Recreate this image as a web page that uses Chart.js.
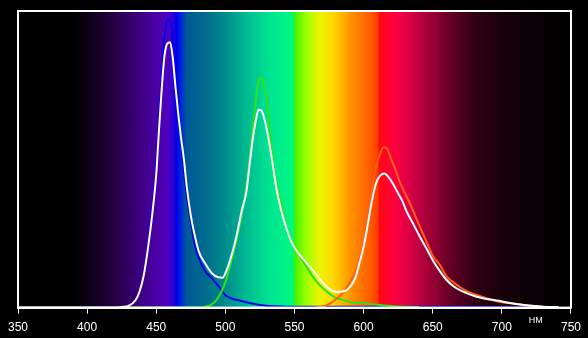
<!DOCTYPE html>
<html>
<head>
<meta charset="utf-8">
<script src="https://cdn.jsdelivr.net/npm/chart.js@4/dist/chart.umd.min.js"></script>
<style>
  html, body { margin: 0; padding: 0; background: #000; }
  canvas { display: block; }
</style>
</head>
<body>
<canvas id="spectrum" width="588" height="338"></canvas>
<script>
// wavelength axis, nm
const xTicks = [350, 400, 450, 500, 550, 600, 650, 700, 750];
const unitLabel = 'НМ';

// white: total spectrum
const whiteNm  = [350, 420, 425, 430, 435, 438, 441, 444, 447, 450, 452, 454, 456, 458, 460, 462, 464, 466, 468, 470, 472, 475, 478, 481, 485, 490, 495, 498, 501, 505, 508, 512, 515, 518, 520, 522, 524, 526, 528, 530, 533, 537, 540, 544, 548, 553, 558, 562, 566, 570, 575, 580, 585, 588, 591, 594, 597, 600, 603, 606, 609, 612, 615, 618, 621, 625, 628, 631, 635, 640, 645, 650, 655, 660, 665, 670, 675, 680, 685, 690, 698, 705, 710, 720, 730, 741];
const whiteVal = [0, 0, 0.2, 0.6, 2.5, 5.5, 11, 20, 31, 45, 60, 74, 85, 89, 89.5, 84, 74, 65, 57, 50, 41, 31, 24, 18.6, 15.2, 11.7, 10.2, 10.1, 12.7, 18.5, 24, 33, 38.5, 50, 57.5, 63, 66.7, 66.5, 64, 60, 52, 40, 33.5, 27, 22, 18.2, 15.5, 13.3, 11, 8.7, 6.3, 5.3, 5.4, 6, 7.5, 10, 15, 20.5, 28, 36, 41.9, 44.5, 45.2, 44, 41.9, 38.5, 36, 32.5, 29, 24.5, 20.3, 16, 12.4, 9.3, 7.2, 5.8, 4.8, 3.9, 3.3, 2.8, 2.3, 1.6, 1.2, 0.7, 0.3, 0.2];

// blue channel
const blueNm  = [425, 430, 435, 438, 441, 444, 447, 450, 452, 454, 456, 458, 460, 462, 464, 466, 468, 470, 472, 475, 478, 481, 485, 490, 495, 500, 505, 510, 515, 520, 530, 540, 560, 600, 650, 700, 718];
const blueVal = [0, 0.5, 2.5, 5.8, 11.5, 21, 33, 48, 64, 79, 91, 97, 97, 90, 79, 68, 56, 46, 38, 29, 21, 16.5, 12.5, 10, 7.2, 4.2, 3, 2.4, 1.8, 1.3, 0.6, 0.4, 0.3, 0.3, 0.3, 0.2, 0.2];

// green channel
const greenNm  = [430, 480, 485, 490, 495, 500, 505, 510, 515, 518, 520, 522, 524, 526, 528, 530, 532, 534, 537, 540, 545, 550, 555, 560, 565, 570, 575, 580, 585, 590, 600, 610, 620, 630, 640];
const greenVal = [0, 0, 0.3, 1, 3.5, 8.5, 17, 27, 40, 52, 61, 70, 76.5, 77.5, 75, 70, 60, 51, 42, 36, 26, 20.5, 16.5, 12.8, 9.3, 6.8, 4.8, 3.3, 2.6, 1.9, 1.5, 1, 0.5, 0.3, 0.2];

// red channel
const redNm  = [565, 570, 575, 580, 585, 590, 595, 600, 603, 606, 609, 612, 614, 616, 618, 620, 623, 626, 630, 635, 640, 645, 650, 655, 660, 665, 670, 675, 680, 685, 690, 700, 710, 720, 730, 740];
const redVal = [0, 0.3, 1.2, 2.8, 5, 8.5, 13, 22, 32, 40, 47.5, 52, 54, 54, 52.5, 50, 46.5, 42.5, 38.5, 33.5, 28, 22.7, 17.5, 14.5, 10.5, 8.5, 6.8, 5.5, 4.5, 3.8, 3, 1.8, 1.3, 0.6, 0.2, 0];

// visible spectrum behind the plot: [nm, colour]
const spectrumStops = [
  [350, 'rgb(0,0,0)'], [390, 'rgb(0,0,0)'], [400, 'rgb(10,0,20)'], [415, 'rgb(30,0,55)'],
  [430, 'rgb(50,0,100)'], [445, 'rgb(70,0,150)'], [458, 'rgb(80,0,190)'], [462, 'rgb(50,0,210)'],
  [464.5, 'rgb(0,0,235)'], [468, 'rgb(0,40,220)'], [472, 'rgb(0,90,150)'], [485, 'rgb(0,105,140)'],
  [500, 'rgb(0,140,140)'], [515, 'rgb(0,185,145)'], [530, 'rgb(0,225,145)'], [545, 'rgb(0,245,135)'],
  [549, 'rgb(0,250,110)'], [550.5, 'rgb(70,240,0)'], [558, 'rgb(150,255,0)'], [568, 'rgb(235,245,0)'],
  [578, 'rgb(255,215,0)'], [590, 'rgb(255,150,0)'], [605, 'rgb(255,90,0)'], [610, 'rgb(255,60,0)'],
  [611.5, 'rgb(255,10,20)'], [620, 'rgb(255,0,55)'], [630, 'rgb(230,0,70)'], [645, 'rgb(170,0,60)'],
  [660, 'rgb(110,0,40)'], [680, 'rgb(50,0,20)'], [700, 'rgb(25,0,10)'], [720, 'rgb(10,0,5)'], [750, 'rgb(0,0,0)']
];

function toPoints(xs, ys) {
  return xs.map((x, i) => ({ x: x, y: ys[i] }));
}

const spectrumBackground = {
  id: 'spectrumBackground',
  beforeDatasetsDraw(chart) {
    const { ctx, chartArea: a, scales: { x } } = chart;
    const grad = ctx.createLinearGradient(a.left, 0, a.right, 0);
    spectrumStops.forEach(([nm, col]) => {
      const t = (x.getPixelForValue(nm) - a.left) / (a.right - a.left);
      grad.addColorStop(Math.min(1, Math.max(0, t)), col);
    });
    ctx.save();
    ctx.fillStyle = grad;
    ctx.fillRect(a.left, a.top, a.right - a.left, a.bottom - a.top);
    ctx.restore();
  }
};

const frame = {
  id: 'frame',
  afterDraw(chart) {
    const { ctx, chartArea: a, scales: { x } } = chart;
    ctx.save();
    ctx.strokeStyle = '#fff';
    ctx.lineWidth = 2;
    ctx.strokeRect(a.left, a.top, a.right - a.left, a.bottom - a.top);
    ctx.fillStyle = '#fff';
    ctx.font = '9px "Liberation Sans", Arial, sans-serif';
    ctx.textAlign = 'center';
    ctx.textBaseline = 'middle';
    ctx.fillText(unitLabel, x.getPixelForValue(724.5), a.bottom + 13);
    ctx.restore();
  }
};

const line = (data, color, order) => ({
  data: data,
  borderColor: color,
  borderWidth: 2,
  pointRadius: 0,
  fill: false,
  cubicInterpolationMode: 'monotone',
  order: order
});

new Chart(document.getElementById('spectrum'), {
  type: 'line',
  data: {
    datasets: [
      line(toPoints(whiteNm, whiteVal), '#ffffff', 0),
      line(toPoints(blueNm, blueVal), 'rgb(0,0,235)', 3),
      line(toPoints(greenNm, greenVal), 'rgb(40,230,20)', 2),
      line(toPoints(redNm, redVal), 'rgb(255,95,20)', 1)
    ]
  },
  options: {
    responsive: false,
    animation: false,
    devicePixelRatio: 1,
    layout: { padding: { left: 18, right: 13, top: 11, bottom: -4 } },
    plugins: { legend: { display: false }, tooltip: { enabled: false } },
    scales: {
      x: {
        type: 'linear',
        min: 350,
        max: 750,
        afterBuildTicks(axis) { axis.ticks = xTicks.map(v => ({ value: v })); },
        ticks: {
          color: '#fff',
          padding: 7,
          maxRotation: 0,
          font: { family: '"Liberation Sans", Arial, sans-serif', size: 12 }
        },
        grid: { drawOnChartArea: false, color: '#fff', tickLength: 6, lineWidth: 1 },
        border: { color: '#fff', width: 2 }
      },
      y: { display: false, min: 0, max: 100 }
    }
  },
  plugins: [spectrumBackground, frame]
});
</script>
</body>
</html>
